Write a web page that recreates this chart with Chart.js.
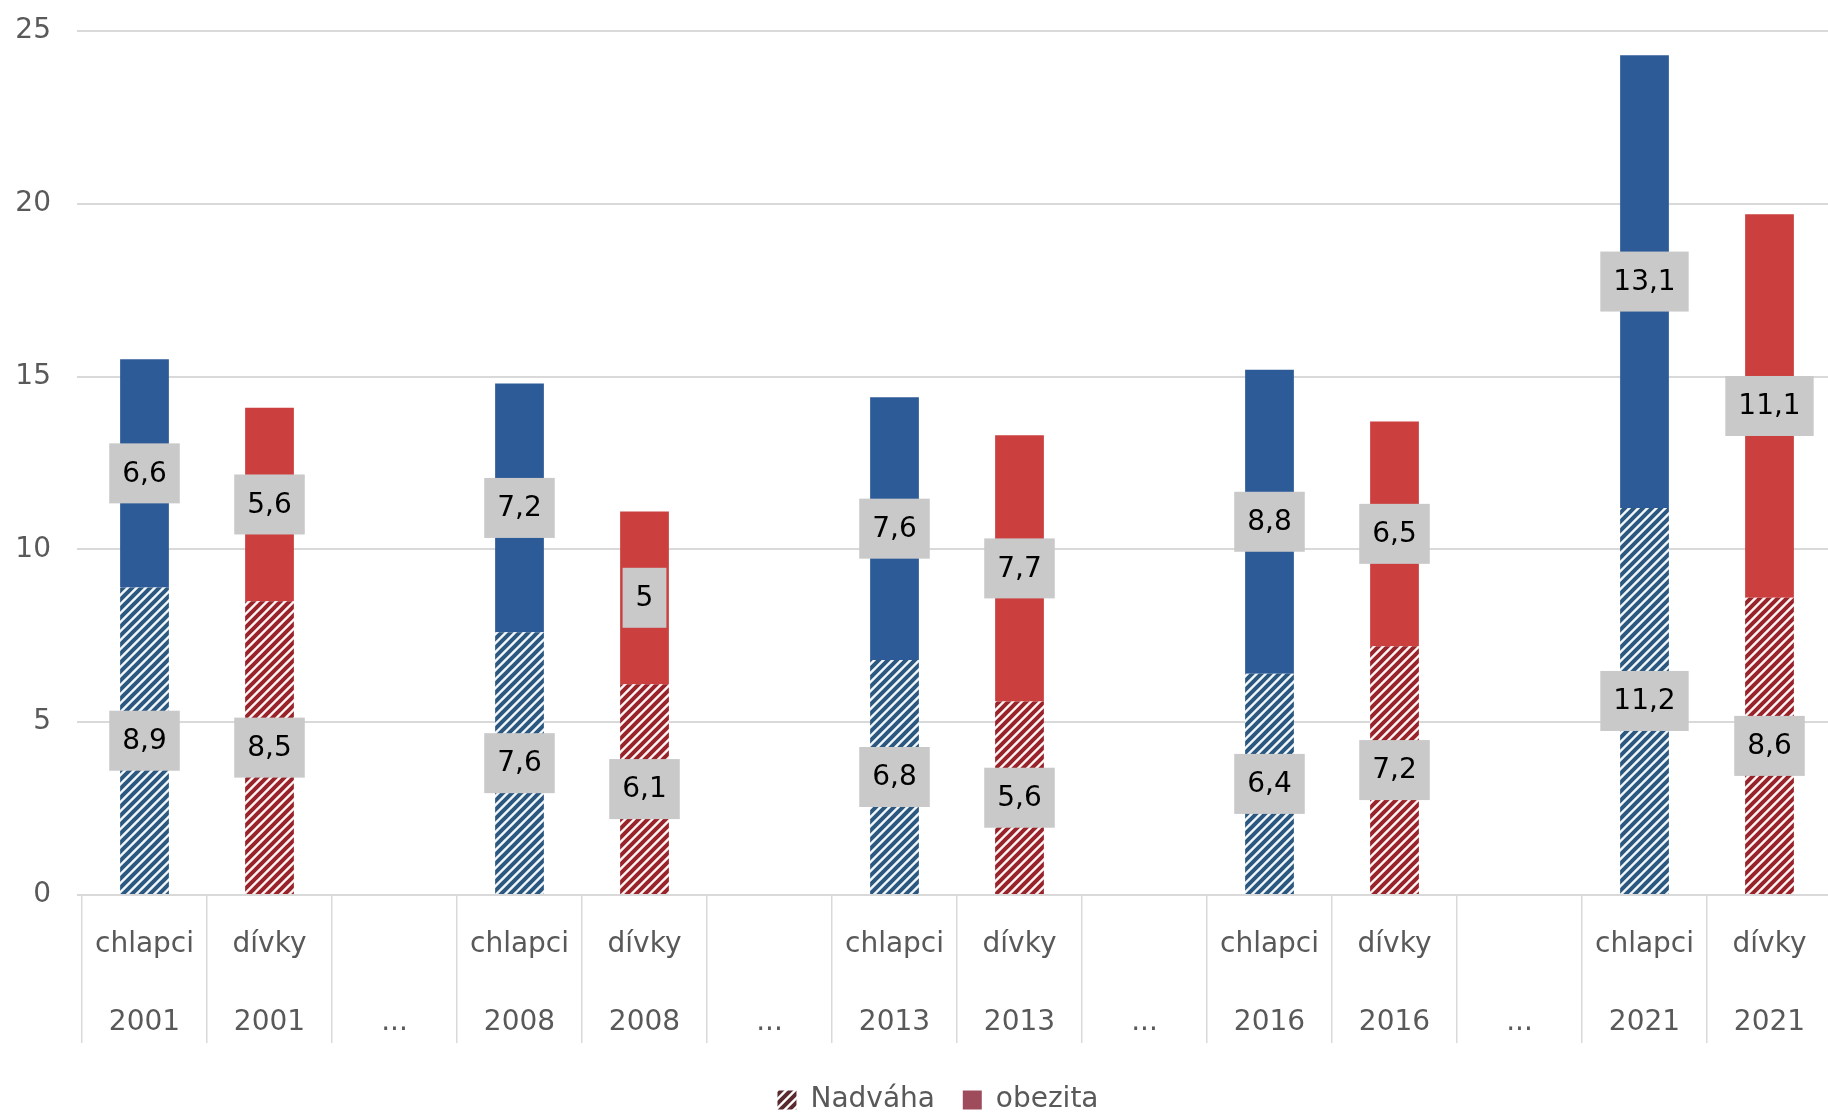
<!DOCTYPE html>
<html>
<head>
<meta charset="utf-8">
<script src="https://cdn.jsdelivr.net/npm/chart.js@4.4.1/dist/chart.umd.min.js"></script>
<style>
    html, body { margin: 0; padding: 0; background: #fff; overflow: hidden; }
    #wrap { width: 1832px; height: 1124px; }
</style>
</head>
<body>
<div id="wrap"><canvas id="weightChart"></canvas></div>
<script>
// data
const groupNames = ['chlapci', 'dívky', '', 'chlapci', 'dívky', '', 'chlapci', 'dívky', '', 'chlapci', 'dívky', '', 'chlapci', 'dívky'];
const groupYears = ['2001', '2001', '...', '2008', '2008', '...', '2013', '2013', '...', '2016', '2016', '...', '2021', '2021'];
const nadvaha = [8.9, 8.5, null, 7.6, 6.1, null, 6.8, 5.6, null, 6.4, 7.2, null, 11.2, 8.6];
const obezita = [6.6, 5.6, null, 7.2, 5, null, 7.6, 7.7, null, 8.8, 6.5, null, 13.1, 11.1];
const yTickValues = [0, 5, 10, 15, 20, 25];

const FONT = '"DejaVu Sans", sans-serif';

function makeHatch(color, bg) {
    const n = 9;
    const c = document.createElement('canvas');
    c.width = n; c.height = n;
    const g = c.getContext('2d');
    g.fillStyle = bg;
    g.fillRect(0, 0, n, n);
    g.strokeStyle = color;
    g.lineWidth = 4;
    g.beginPath();
    g.moveTo(-2, n + 2); g.lineTo(n + 2, -2);
    g.moveTo(-3, 3); g.lineTo(3, -3);
    g.moveTo(n - 3, n + 3); g.lineTo(n + 3, n - 3);
    g.stroke();
    return g.createPattern(c, 'repeat');
}

const blueSolid = '#2d5b98';
const redSolid = '#cb3f3f';
const blueHatch = makeHatch('#2c5880', '#f2f7fc');
const redHatch = makeHatch('#99232a', '#fdf4f4');
const legendHatch = makeHatch('#5a2a2e', '#ffffff');

const isBoy = groupNames.map(n => n === 'chlapci');

// gray value boxes in the middle of each segment
const valueBoxes = {
    id: 'valueBoxes',
    afterLayout(chart) {
        // legend sits a bit right of the canvas centre in the original
        if (chart.legend) chart.legend.left = 44;
    },
    afterDatasetsDraw(chart) {
        const ctx = chart.ctx;
        ctx.save();
        ctx.font = '28px ' + FONT;
        ctx.textAlign = 'center';
        ctx.textBaseline = 'middle';
        chart.data.datasets.forEach((ds, i) => {
            const meta = chart.getDatasetMeta(i);
            meta.data.forEach((bar, j) => {
                const v = ds.data[j];
                if (v == null) return;
                const cy = (bar.y + bar.base) / 2;
                const text = String(v).replace('.', ',');
                const w = ctx.measureText(text).width + 26;
                const h = 60;
                ctx.fillStyle = '#c9c9c9';
                ctx.fillRect(bar.x - w / 2, cy - h / 2, w, h);
                ctx.fillStyle = '#000';
                ctx.fillText(text, bar.x, cy + 1);
            });
        });
        ctx.restore();
    }
};

const ctx = document.getElementById('weightChart').getContext('2d');
new Chart(ctx, {
    type: 'bar',
    data: {
        labels: groupNames.map((n, i) => [n, groupYears[i]]),
        datasets: [
            {
                label: 'Nadváha',
                data: nadvaha,
                backgroundColor: isBoy.map(b => b ? blueHatch : redHatch),
                barPercentage: 0.39,
                categoryPercentage: 1
            },
            {
                label: 'obezita',
                data: obezita,
                backgroundColor: isBoy.map(b => b ? blueSolid : redSolid),
                barPercentage: 0.39,
                categoryPercentage: 1
            }
        ]
    },
    options: {
        responsive: true,
        maintainAspectRatio: false,
        animation: false,
        layout: { padding: { top: 31, left: 0, right: 0, bottom: 0 } },
        plugins: {
            tooltip: { enabled: false },
            legend: {
                position: 'bottom',
                labels: {
                    font: { family: FONT, size: 28 },
                    color: '#595959',
                    boxWidth: 19,
                    boxHeight: 19,
                    padding: 10,
                    generateLabels: () => [
                        { text: 'Nadváha  ', fillStyle: legendHatch, strokeStyle: 'rgba(0,0,0,0)', lineWidth: 0, fontColor: '#595959', datasetIndex: 0 },
                        { text: 'obezita', fillStyle: '#9e4b5c', strokeStyle: 'rgba(0,0,0,0)', lineWidth: 0, fontColor: '#595959', datasetIndex: 1 }
                    ]
                }
            }
        },
        scales: {
            x: {
                stacked: true,
                afterFit: scale => { scale.height = 181; },
                grid: {
                    offset: true,
                    drawOnChartArea: false,
                    drawTicks: true,
                    tickLength: 148,
                    color: '#d9d9d9',
                    lineWidth: 1.5
                },
                border: { display: true, color: '#d9d9d9', width: 2 },
                ticks: {
                    autoSkip: false,
                    maxRotation: 0,
                    padding: -137,
                    color: '#595959',
                    font: { family: FONT, size: 28, lineHeight: '78px' }
                }
            },
            y: {
                stacked: true,
                min: 0,
                max: 25,
                afterFit: scale => {
                    scale.width = 82;
                    scale.paddingTop = 0;
                    scale.paddingBottom = 0;
                },
                afterBuildTicks: scale => { scale.ticks = yTickValues.map(v => ({ value: v })); },
                grid: {
                    color: '#d9d9d9',
                    lineWidth: 2,
                    drawTicks: true,
                    tickLength: 5
                },
                border: { display: false },
                ticks: {
                    padding: 26,
                    color: '#595959',
                    font: { family: FONT, size: 28 }
                }
            }
        }
    },
    plugins: [valueBoxes]
});
</script>
</body>
</html>
